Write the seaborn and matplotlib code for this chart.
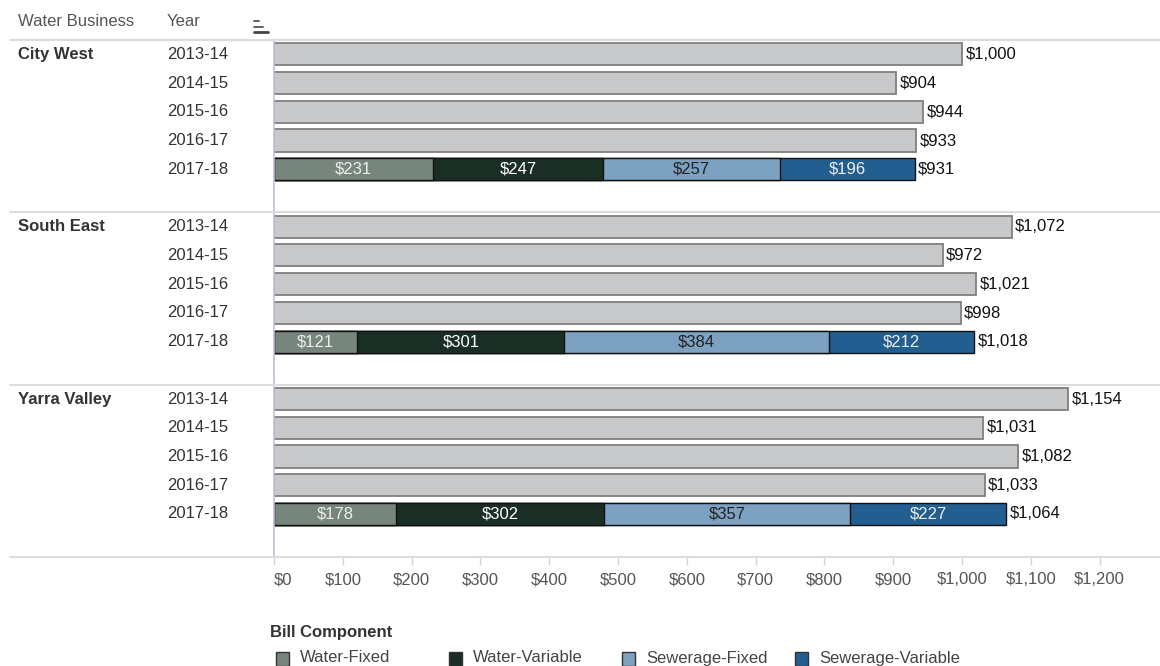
import matplotlib
matplotlib.use("Agg")
import matplotlib.pyplot as plt
import matplotlib.transforms as mtransforms
from matplotlib.lines import Line2D
from matplotlib.patches import Rectangle
import numpy as np
import pandas as pd
import seaborn as sns

# chart data
businesses = ["City West", "South East", "Yarra Valley"]
years = ["2013-14", "2014-15", "2015-16", "2016-17", "2017-18"]
city_west_totals = [1000, 904, 944, 933, 931]
south_east_totals = [1072, 972, 1021, 998, 1018]
yarra_valley_totals = [1154, 1031, 1082, 1033, 1064]

components = ["Water-Fixed", "Water-Variable", "Sewerage-Fixed", "Sewerage-Variable"]
# 2017-18 split, one value per business
water_fixed = [231, 121, 178]
water_variable = [247, 301, 302]
sewerage_fixed = [257, 384, 357]
sewerage_variable = [196, 212, 227]

comp_colors = ["#77867d", "#1b2e26", "#7ca1c1", "#235e90"]
comp_text = ["#eeeeee", "#ffffff", "#222222", "#eeeeee"]

x_ticks = [0, 100, 200, 300, 400, 500, 600, 700, 800, 900, 1000, 1100, 1200]

sns.set_theme(style="white")
plt.rcParams["font.family"] = ["Liberation Sans", "DejaVu Sans"]

# build tidy tables
all_totals = [city_west_totals, south_east_totals, yarra_valley_totals]
rows = []
order = []
for b, tots in zip(businesses, all_totals):
    for y, t in zip(years, tots):
        rows.append({"business": b, "year": y, "row": f"{b}|{y}", "total": t})
        order.append(f"{b}|{y}")
    order.append(f"{b}|gap")
df = pd.DataFrame(rows)
hist = df[df["year"] != years[-1]]

last = pd.DataFrame({
    "business": businesses,
    "row": [f"{b}|{years[-1]}" for b in businesses],
    components[0]: water_fixed,
    components[1]: water_variable,
    components[2]: sewerage_fixed,
    components[3]: sewerage_variable,
})
cum = last[components].cumsum(axis=1)

W, H = 1160, 666
fig = plt.figure(figsize=(W / 100, H / 100), dpi=100)
ax = fig.add_axes([274 / W, 1 - 557 / H, 1 - 274 / W, (557 - 40) / H])

sns.barplot(data=hist, x="total", y="row", order=order, color="#c8c9cb",
            saturation=1, edgecolor="#7f7f7f", linewidth=1.3, width=0.77, ax=ax)

# stacked bars: draw cumulative widths from the longest down
for k in range(len(components) - 1, -1, -1):
    tmp = last.assign(cum=cum[components[k]])
    sns.barplot(data=tmp, x="cum", y="row", order=order, color=comp_colors[k],
                saturation=1, edgecolor="#111111", linewidth=1.0, width=0.77, ax=ax)

# segment labels
for i, r in last.iterrows():
    yi = order.index(r["row"])
    for k, c in enumerate(components):
        mid = cum.loc[i, c] - r[c] / 2
        ax.text(mid, yi, f"${r[c]:,}", ha="center", va="center",
                fontsize=12, color=comp_text[k])

# total labels
for _, r in df.iterrows():
    yi = order.index(r["row"])
    ax.text(r["total"] + 5, yi, f"${r['total']:,}", ha="left", va="center",
            fontsize=12, color="#111111")

ax.set_xlim(0, (W - 274) / 68.8 * 100)
ax.set_ylim(len(order) - 0.5, -0.5)
ax.set_xlabel("")
ax.set_ylabel("")
ax.set_yticks([])
ax.set_xticks(x_ticks)
ax.set_xticklabels([f"${v:,}" for v in x_ticks])
ax.get_xticklabels()[0].set_ha("left")
ax.tick_params(axis="x", length=6, width=1, color="#d4d4d4", labelsize=12,
               labelcolor="#555555", pad=5, bottom=True)
for s in ["top", "right", "bottom"]:
    ax.spines[s].set_visible(False)
ax.spines["left"].set_color("#c3bfdc")
ax.spines["left"].set_linewidth(1.2)

# row headers and separators
trans = mtransforms.blended_transform_factory(fig.transFigure, ax.transData)
for b in businesses:
    y0 = order.index(f"{b}|{years[0]}")
    ax.text(18 / W, y0, b, transform=trans, ha="left", va="center",
            fontsize=12, fontweight="bold", color="#333333")
    for y in years:
        ax.text(167 / W, order.index(f"{b}|{y}"), y, transform=trans,
                ha="left", va="center", fontsize=12, color="#333333")
    gy = order.index(f"{b}|gap") + 0.5
    fig.add_artist(Line2D([10 / W, 1], [gy, gy], transform=trans,
                          color="#dcdcdc", lw=1.5))
fig.add_artist(Line2D([10 / W, 1], [-0.5, -0.5], transform=trans,
                      color="#dcdcdc", lw=1.5))

# column headers
fig.text(18 / W, 1 - 22 / H, "Water Business", ha="left", va="center",
         fontsize=12, color="#555555")
fig.text(167 / W, 1 - 22 / H, "Year", ha="left", va="center",
         fontsize=12, color="#555555")
for yy, x1, lw in [(21, 259, 1.2), (26.5, 263, 1.2), (31.5, 268, 2)]:
    fig.add_artist(Line2D([254 / W, x1 / W], [1 - yy / H, 1 - yy / H],
                          color="#444444", lw=lw))

# legend
fig.text(270 / W, 1 - 632 / H, "Bill Component", ha="left", va="center",
         fontsize=12, fontweight="bold", color="#333333")
for k, c in enumerate(components):
    x0 = 276 + k * 173
    fig.add_artist(Rectangle((x0 / W, 1 - 666 / H), 13 / W, 14 / H,
                             facecolor=comp_colors[k], edgecolor="#333333", lw=1))
    fig.text((x0 + 24) / W, 1 - 658 / H, c, ha="left", va="center",
             fontsize=12, color="#444444")

fig.savefig("out.png", dpi=100)
